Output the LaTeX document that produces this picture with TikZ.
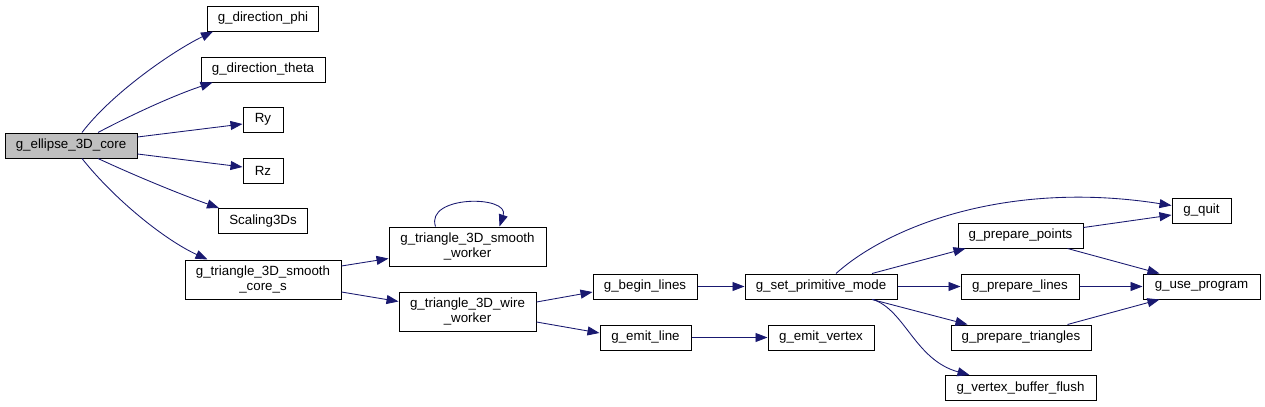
\documentclass[tikz,border=0pt]{standalone}
\usepackage{fontspec}
\setmainfont{Liberation Sans}
\usetikzlibrary{arrows.meta,calc}
\definecolor{edgeblue}{RGB}{25,25,112}
\definecolor{rootgray}{RGB}{191,191,191}
\tikzset{
  fbox/.style={draw=black, line width=0.75pt, fill=white, inner sep=0pt,
    minimum width=#1*0.75pt, minimum height=18.75pt, font=\fontsize{10pt}{10.75pt}\selectfont, align=center},
  fbox2/.style={fbox=#1, minimum height=29.25pt},
  call/.style={draw=edgeblue, line width=0.65pt, -{Triangle[length=9pt,width=6.75pt]}, fill=none}
}
\begin{document}
\begin{tikzpicture}[x=0.75pt,y=-0.75pt]
\useasboundingbox (0,0) rectangle (1265,407);
% nodes
\node[fbox=132, fill=rootgray] (ell) at (71,145.5) {g\_ellipse\_3D\_core};
\node[fbox=111] (phi) at (263,18.5) {g\_direction\_phi};
\node[fbox=124] (theta) at (263,69.5) {g\_direction\_theta};
\node[fbox=40] (ry) at (263,119.5) {Ry};
\node[fbox=40] (rz) at (263,170.5) {Rz};
\node[fbox=89] (scal) at (263,221) {Scaling3Ds};
\node[fbox2=156] (cores) at (263,279.5) {g\_triangle\_3D\_smooth\\\_core\_s};
\node[fbox2=157] (smw) at (467.5,246.5) {g\_triangle\_3D\_smooth\\\_worker};
\node[fbox2=137] (wire) at (467.5,311.5) {g\_triangle\_3D\_wire\\\_worker};
\node[fbox=104] (begin) at (645,286.5) {g\_begin\_lines};
\node[fbox=91] (emitl) at (645.5,337.5) {g\_emit\_line};
\node[fbox=152] (setp) at (821,286.5) {g\_set\_primitive\_mode};
\node[fbox=106] (emitv) at (821,337.5) {g\_emit\_vertex};
\node[fbox=59] (quit) at (1201.5,210.5) {g\_quit};
\node[fbox=125] (ppts) at (1020.5,235.5) {g\_prepare\_points};
\node[fbox=118] (plines) at (1020,286.5) {g\_prepare\_lines};
\node[fbox=117] (use) at (1201.5,286.5) {g\_use\_program};
\node[fbox=140] (ptri) at (1021,337.5) {g\_prepare\_triangles};
\node[fbox=151] (vbf) at (1020.5,388) {g\_vertex\_buffer\_flush};
% edges
\draw[call] ($(ell.north)+(11,0)$) .. controls (112,93) and (173,51) .. ($(phi.south west)+(6,0)$);
\draw[call] ($(ell.north)+(27,0)$) .. controls (135,113) and (175,95) .. ($(theta.south west)+(12,0)$);
\draw[call] ($(ell.east)+(0,-8.5)$) -- ($(ry.west)+(0,4.5)$);
\draw[call] ($(ell.east)+(0,8.5)$) -- ($(rz.west)+(0,-3.5)$);
\draw[call] ($(ell.south)+(27,0)$) .. controls (140,178) and (185,196) .. ($(scal.north west)+(1,0)$);
\draw[call] ($(ell.south)+(11,0)$) .. controls (115,200) and (165,240) .. ($(cores.north west)+(23,0)$);
\draw[call] ($(cores.east)+(0,-13.5)$) -- ($(smw.west)+(0,12)$);
\draw[call] ($(cores.east)+(0,12.5)$) -- ($(wire.west)+(0,-10)$);
\draw[call] ($(smw.north)+(-32,0)$) .. controls (425,195) and (510,195) .. ($(smw.north)+(32,0)$);
\draw[call] ($(wire.east)+(0,-9.5)$) -- ($(begin.west)+(0,5.5)$);
\draw[call] ($(wire.east)+(0,10.5)$) -- ($(emitl.west)+(0,-4.5)$);
\draw[call] (begin.east) -- (setp.west);
\draw[call] (emitl.east) -- (emitv.west);
\draw[call] ($(setp.north)+(15,0)$) .. controls (890,225) and (1010,180) .. ($(quit.west)+(0,-5)$);
\draw[call] ($(setp.north)+(51,0)$) -- ($(ppts.south west)+(8,0)$);
\draw[call] (setp.east) -- (plines.west);
\draw[call] ($(setp.south)+(51,0)$) -- ($(ptri.north west)+(17,0)$);
\draw[call] ($(setp.south)+(52,0)$) .. controls (905,310) and (915,360) .. ($(vbf.north west)+(25,0)$);
\draw[call] ($(ppts.east)+(0,-8)$) -- ($(quit.west)+(0,4.5)$);
\draw[call] ($(ppts.south east)+(-16,0)$) -- ($(use.north west)+(17,0)$);
\draw[call] (plines.east) -- (use.west);
\draw[call] ($(ptri.north east)+(-24,0)$) -- ($(use.south west)+(17,0)$);
\end{tikzpicture}
\end{document}
